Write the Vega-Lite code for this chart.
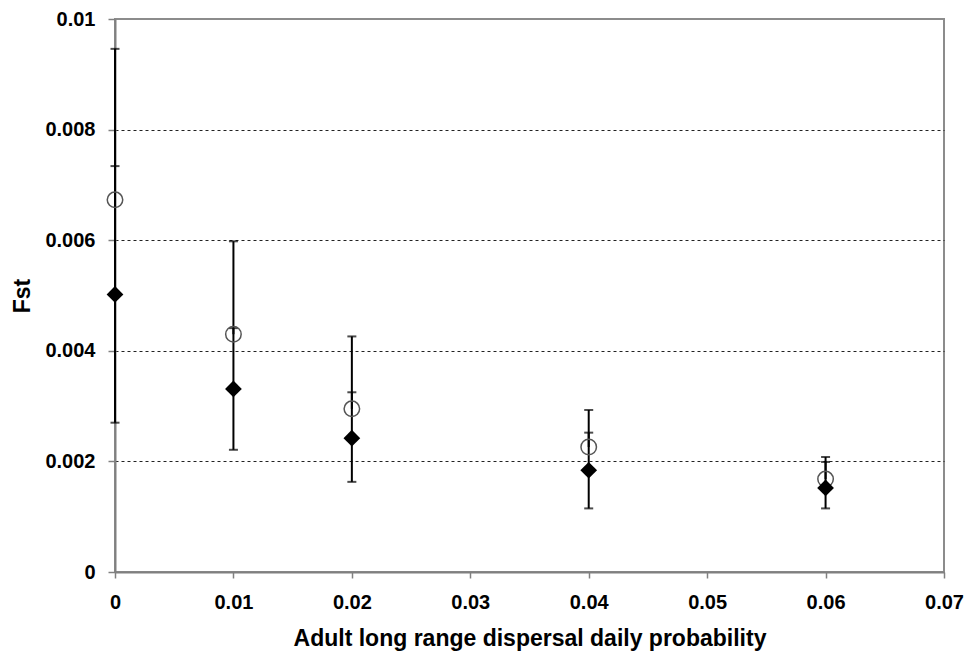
{
  "$schema": "https://vega.github.io/schema/vega-lite/v6.json",
  "width": 829,
  "height": 553,
  "autosize": "none",
  "padding": {"left": 115, "top": 19, "right": 21, "bottom": 81},
  "background": "white",
  "config": {
    "view": {"stroke": "#8c8c8c", "strokeWidth": 2},
    "font": "Liberation Sans"
  },
  "data": {
    "values": [
      {"p": 0, "series": "A", "fst": 0.00673, "low": 0.00673, "high": 0.00946},
      {"p": 0.01, "series": "A", "fst": 0.0043, "low": 0.0043, "high": 0.00598},
      {"p": 0.02, "series": "A", "fst": 0.00295, "low": 0.00295, "high": 0.00426},
      {"p": 0.04, "series": "A", "fst": 0.00226, "low": 0.00226, "high": 0.00293},
      {"p": 0.06, "series": "A", "fst": 0.00168, "low": 0.00168, "high": 0.00208},
      {"p": 0, "series": "B", "fst": 0.00502, "low": 0.0027, "high": 0.00734},
      {"p": 0.01, "series": "B", "fst": 0.00331, "low": 0.00221, "high": 0.00441},
      {"p": 0.02, "series": "B", "fst": 0.00242, "low": 0.00163, "high": 0.00325},
      {"p": 0.04, "series": "B", "fst": 0.00184, "low": 0.00115, "high": 0.00252},
      {"p": 0.06, "series": "B", "fst": 0.00152, "low": 0.00115, "high": 0.00199}
    ]
  },
  "encoding": {
    "x": {
      "field": "p",
      "type": "quantitative",
      "scale": {"domain": [0, 0.07], "nice": false, "zero": false},
      "axis": {
        "title": "Adult long range dispersal daily probability",
        "values": [0, 0.01, 0.02, 0.03, 0.04, 0.05, 0.06, 0.07],
        "format": "~g",
        "grid": false,
        "domainColor": "#808080",
        "domainWidth": 2,
        "tickColor": "#808080",
        "tickWidth": 1.5,
        "tickSize": 6,
        "labelFont": "Liberation Sans",
        "labelFontSize": 20,
        "labelFontWeight": "bold",
        "labelColor": "black",
        "labelPadding": 14,
        "labelFlush": false,
        "titleFont": "Liberation Sans",
        "titleFontSize": 23,
        "titleFontWeight": "bold",
        "titleColor": "black",
        "titlePadding": 15
      }
    },
    "y": {
      "type": "quantitative",
      "scale": {"domain": [0, 0.01], "nice": false},
      "axis": {
        "title": "Fst",
        "values": [0, 0.002, 0.004, 0.006, 0.008, 0.01],
        "format": "~g",
        "grid": true,
        "gridColor": {"condition": {"test": "datum.value <= 0 || datum.value >= 0.01", "value": "transparent"}, "value": "#222"},
        "gridDash": [3, 3],
        "gridWidth": 1,
        "domainColor": "#808080",
        "domainWidth": 2,
        "tickColor": "#808080",
        "tickWidth": 1.5,
        "tickSize": 7,
        "labelFont": "Liberation Sans",
        "labelFontSize": 20,
        "labelFontWeight": "bold",
        "labelColor": "black",
        "labelPadding": 13,
        "labelFlush": false,
        "titleFont": "Liberation Sans",
        "titleFontSize": 23,
        "titleFontWeight": "bold",
        "titleColor": "black",
        "titlePadding": 10
      }
    }
  },
  "layer": [
    {
      "mark": {"type": "rule", "color": "black", "strokeWidth": 2},
      "encoding": {
        "y": {"field": "low", "type": "quantitative"},
        "y2": {"field": "high"}
      }
    },
    {
      "transform": [
        {"fold": ["low", "high"], "as": ["end", "val"]},
        {"filter": "datum.series == 'B' || datum.end == 'high'"}
      ],
      "mark": {"type": "tick", "orient": "horizontal", "color": "black", "size": 9, "thickness": 2},
      "encoding": {
        "y": {"field": "val", "type": "quantitative"}
      }
    },
    {
      "transform": [{"filter": "datum.series == 'A'"}],
      "mark": {"type": "point", "shape": "circle", "filled": false, "stroke": "#555", "strokeWidth": 1.5, "size": 240, "opacity": 1},
      "encoding": {
        "y": {"field": "fst", "type": "quantitative"}
      }
    },
    {
      "transform": [{"filter": "datum.series == 'B'"}],
      "mark": {"type": "point", "shape": "diamond", "filled": true, "color": "black", "size": 280, "opacity": 1},
      "encoding": {
        "y": {"field": "fst", "type": "quantitative"}
      }
    }
  ]
}
